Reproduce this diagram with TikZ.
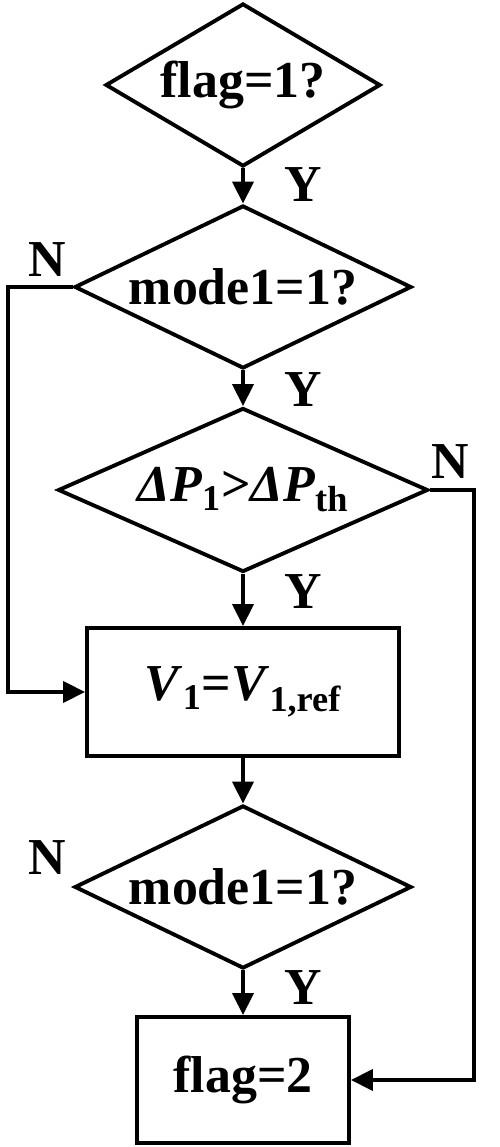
\documentclass[tikz,border=0pt]{standalone}
\usepackage{fontspec}
\setmainfont{Liberation Serif}
\usetikzlibrary{shapes.geometric,arrows.meta}

\begin{document}
\begin{tikzpicture}[
    font=\fontsize{29.5}{33}\selectfont\bfseries,
    line width=2.2pt,
    judge/.style={draw, diamond, aspect=2.1, inner sep=0pt, minimum height=3.26cm},
    proc/.style={draw, rectangle, inner sep=0pt},
    flow/.style={-{Triangle[length=0.44cm, width=0.42cm]}}
]
    \useasboundingbox (0, 0) rectangle (10, 22.94);

    % 判断框
    \node[judge, minimum width=5.5cm] (d1) at (4.86, 21.24) {flag=1?};
    \node[judge, minimum width=6.74cm] (d2) at (4.86, 17.2) {mode1=1?};
    \node[judge, minimum width=7.4cm, minimum height=3.28cm] (d3) at (4.86, 13.14)
        {\textit{ΔP}\textsubscript{1}>\textit{ΔP}\textsubscript{th}};
    \node[judge, minimum width=6.74cm] (d4) at (4.86, 5.2) {mode1=1?};

    % 处理框
    \node[proc, minimum width=6.24cm, minimum height=2.56cm] (setv) at (4.86, 9.1)
        {\textit{V}\textsubscript{1}=\textit{V}\textsubscript{1,ref}};
    \node[proc, minimum width=4.24cm, minimum height=2.52cm] (setf) at (4.86, 1.34) {flag=2};

    % 连线
    \draw[flow] (d1.south) -- (d2.north);
    \draw[flow] (d2.south) -- (d3.north);
    \draw[flow] (d3.south) -- (setv.north);
    \draw[flow] (setv.south) -- (d4.north);
    \draw[flow] (d4.south) -- (setf.north);
    \draw[flow] (d2.west) -- ++(-1.29, 0) |- (setv.west);
    \draw[flow] (d3.east) -- ++(0.88, 0) |- (setf.east);

    % 标注
    \node (y1) at (6.06, 19.24) {Y};
    \node (y2) at (6.06, 15.14) {Y};
    \node (y3) at (6.06, 11.1) {Y};
    \node (y4) at (6.06, 3.18) {Y};
    \node (n1) at (0.94, 17.74) {N};
    \node (n2) at (9.0, 13.7) {N};
    \node (n3) at (0.94, 5.78) {N};
\end{tikzpicture}
\end{document}
